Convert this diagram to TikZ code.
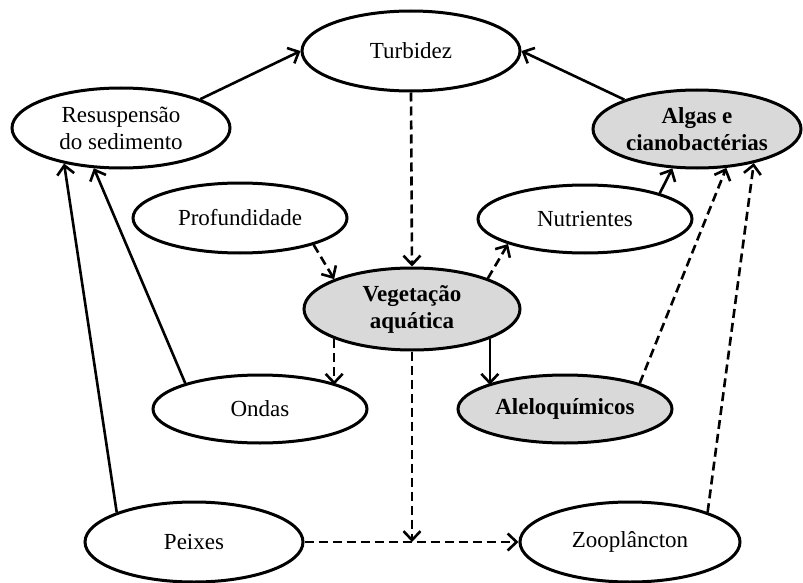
\documentclass[tikz,border=0pt]{standalone}
\usepackage{fontspec}
\setmainfont{Liberation Serif}
\usetikzlibrary{shapes.geometric,arrows.meta}
\begin{document}
\begin{tikzpicture}[x=1pt,y=-1pt]
	\tikzset{
		elip/.style={ellipse,draw,line width=3pt,inner sep=0pt,minimum width=214pt,minimum height=68pt,align=center,font=\fontsize{23}{27}\selectfont},
		elipx/.style={elip,minimum width=218pt,minimum height=80pt},
		cham/.style={fill=gray!30,font=\fontsize{23}{27}\selectfont\bfseries},
		mui/.style={line width=2.6pt,-{Straight Barb[length=9pt,width=17pt,line width=2.6pt]}},
		dut/.style={mui,dash pattern=on 9pt off 5pt}
	}
	\useasboundingbox (0,0) rectangle (803,583);
	\path 
	(411,51) node[elipx] (Tu) {Turbidez}
	(121,128) node[elipx] (Re) {Resuspensão\\do sedimento}
	(697,129) node[elipx,cham,minimum width=208pt,minimum height=78pt] (Al) {Algas e\\cianobactérias}
	(240,218) node[elip,minimum height=70pt] (Pr) {Profundidade}
	(585,219) node[elip] (Nu) {Nutrientes}
	(412,309) node[elipx,cham,minimum width=216pt,minimum height=82pt] (Ve) {Vegetação\\aquática}
	(260,409) node[elip] (On) {Ondas}
	(565,409) node[elip,cham] (Aq) {Aleloquímicos}
	(194,542) node[elipx] (Pe) {Peixes}
	(630,542) node[elipx,minimum width=220pt] (Zo) {Zooplâncton}
	;
	\coordinate (M) at (Ve.south |- Pe.east);
	\draw[mui] (Re.20)--(Tu.180);
	\draw[mui] (Al.158)--(Tu.0);
	\draw[dut] (Tu.south)--(Ve.north);
	\draw[dut] (Pr.-20)--(Ve.159);
	\draw[dut] (Ve.22)--(Nu.198);
	\draw[mui] (Nu.19)--(Al.238);
	\draw[dut] (Ve.201)--(Ve.201 |- On.17);
	\draw[mui] (Ve.-21)--(Ve.-21 |- Aq.163);
	\draw[dut] (Aq.19)--(Al.-53);
	\draw[dut] (Zo.21)--(Al.-31);
	\draw[mui] (On.161)--(Re.236);
	\draw[mui] (Pe.159)--(Re.212);
	\draw[dut] (Pe.east)--(Zo.west);
	\draw[dut] (Ve.south)--(M);
\end{tikzpicture}
\end{document}
